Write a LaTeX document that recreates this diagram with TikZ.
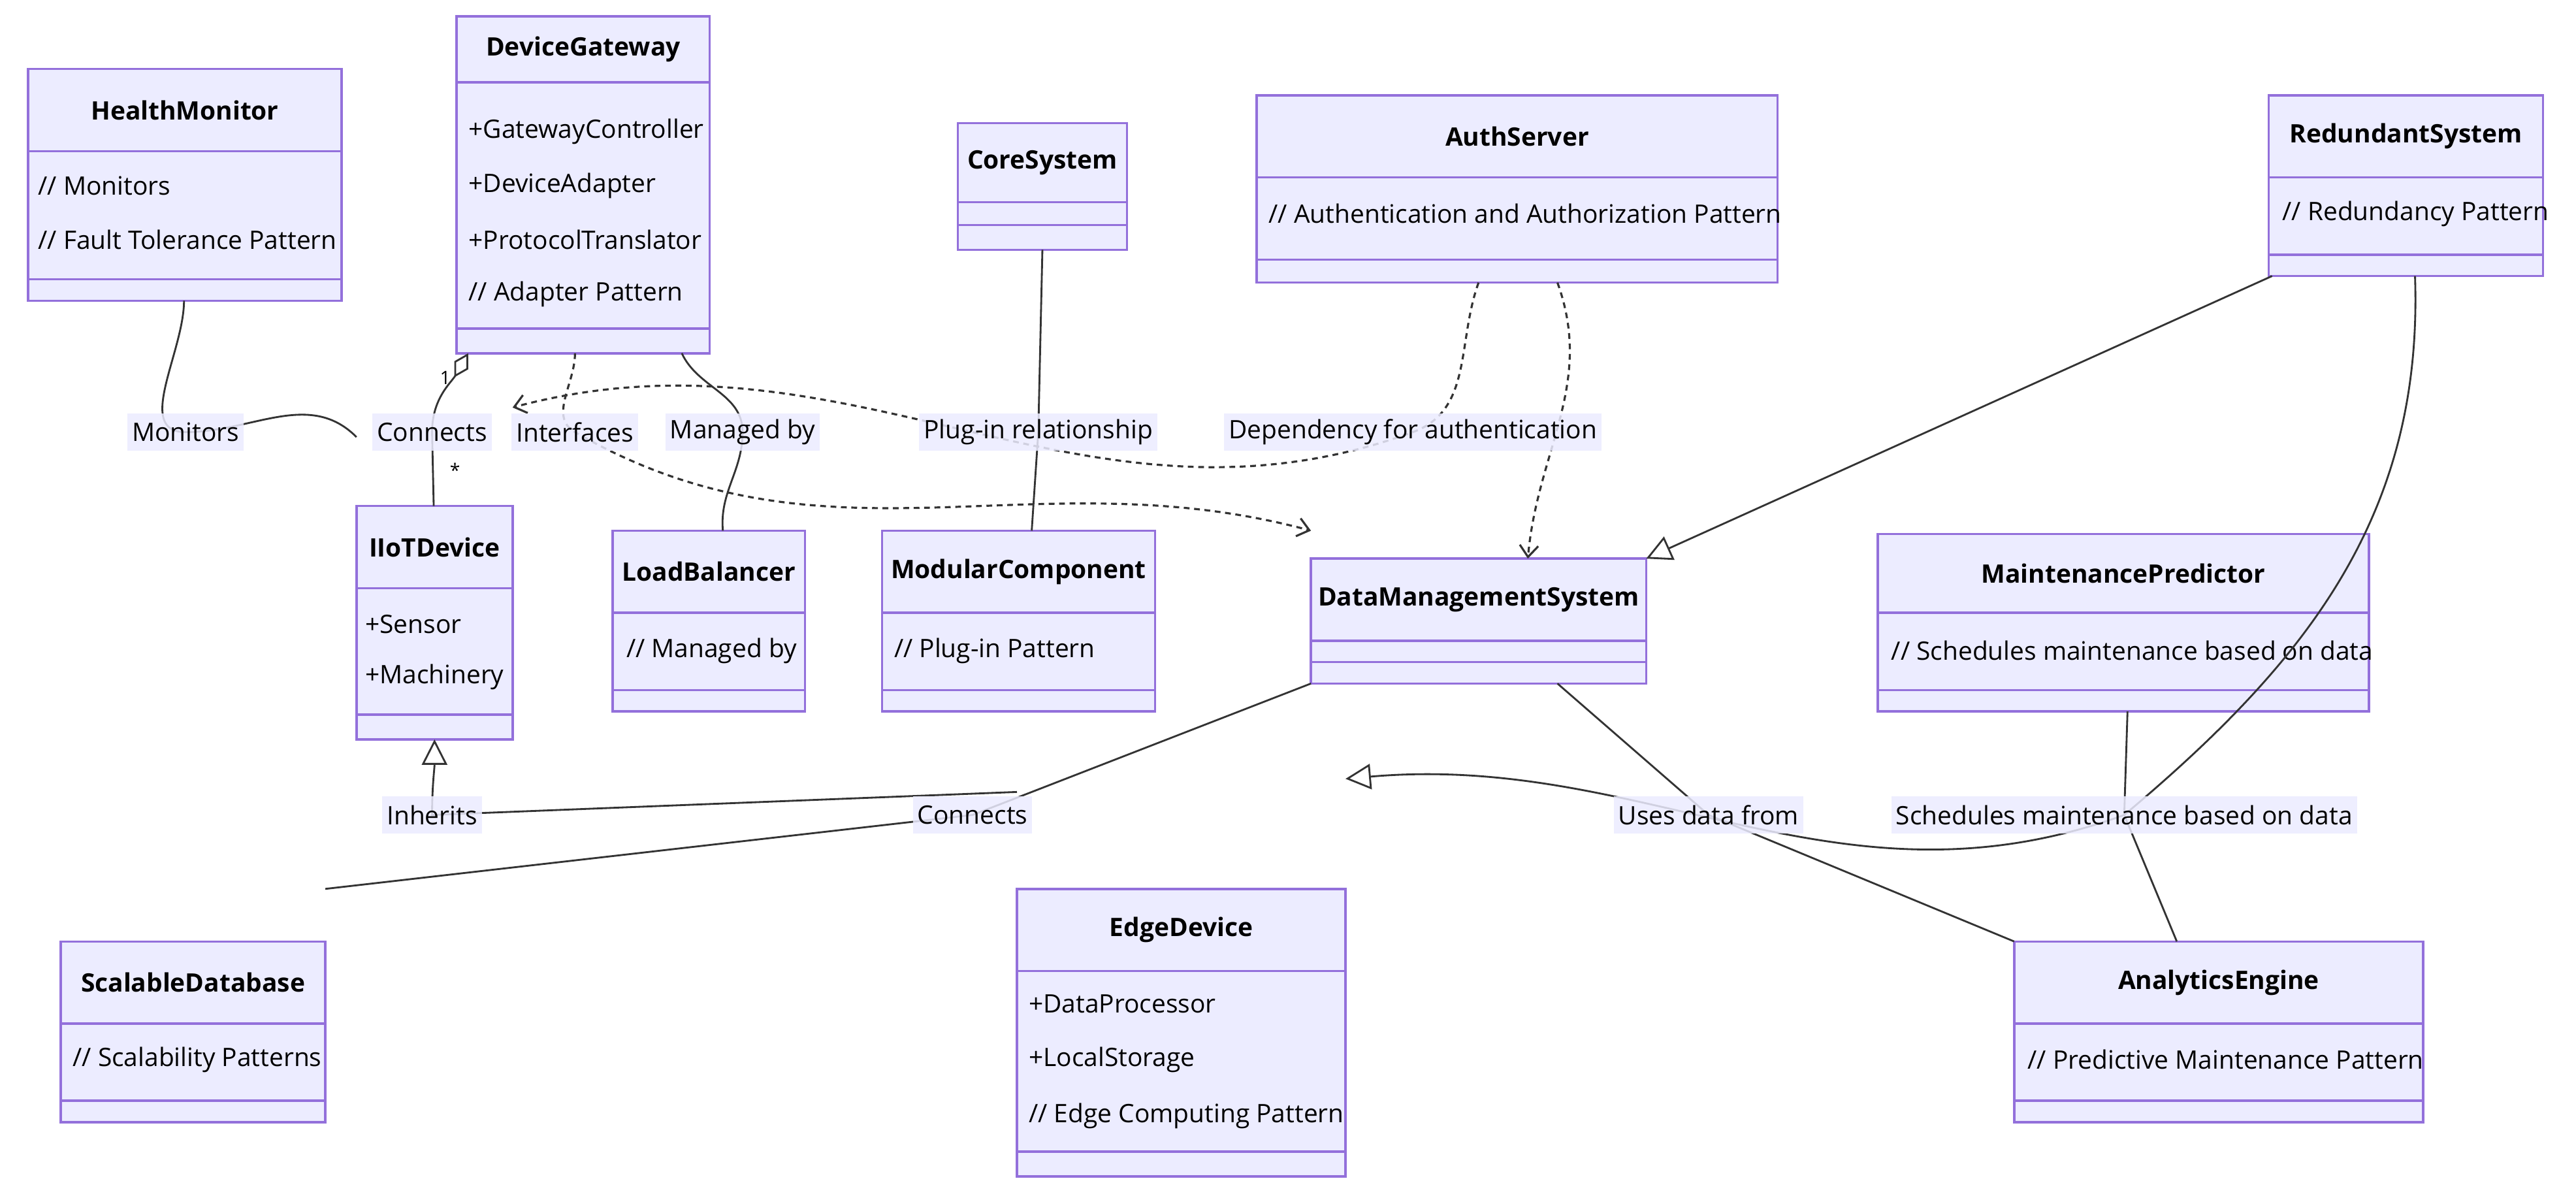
\documentclass[tikz,border=0pt]{standalone}
\usepackage{fontspec}
\setmainfont{Open Sans}
\usetikzlibrary{arrows.meta,calc}
\definecolor{boxfill}{HTML}{ECECFF}
\definecolor{boxline}{HTML}{9370DB}
\definecolor{edge}{HTML}{333333}
\newcommand{\umlbox}[8]{%
 \fill[boxfill] (#2,#3) rectangle (#4,#5);
 \draw[boxline,line width=1pt] (#2,#6) -- (#4,#6) (#2,#7) -- (#4,#7);
 \node[cls,minimum width={(#4-#2)*0.025cm},minimum height={(#5-#3)*0.025cm},anchor=north west] (#1) at (#2,#3) {};
 \node[ttl] at ({(#2+#4)/2},{(#3+#6)/2}) {#8};
}
\begin{document}
\begin{tikzpicture}[x=0.025cm,y=-0.025cm,
 cls/.style={draw=boxline,line width=1pt,inner sep=0pt,outer sep=0pt},
 ttl/.style={font=\fontsize{11}{13}\selectfont\bfseries,inner sep=0pt},
 mem/.style={font=\fontsize{11}{13}\selectfont,anchor=west,inner sep=0pt},
 lbl/.style={font=\fontsize{11}{13}\selectfont,fill=boxfill,fill opacity=0.85,text opacity=1,inner sep=2pt,minimum height=16pt},
 ln/.style={edge,line width=0.8pt},
 dsh/.style={edge,line width=0.9pt,dash pattern=on 2.5pt off 2pt},
 inh/.style={-{Triangle[open,length=11pt,width=11pt]}},
 dep/.style={-{Straight Barb[length=5pt,width=8pt]}},
 mult/.style={font=\fontsize{8}{9}\selectfont,inner sep=0pt}]
\useasboundingbox (0,0) rectangle (1568,729);
\fill[white] (0,0) rectangle (1568,729);

% edges first
\coordinate (Lmon) at (113,263);
\coordinate (Lcon1) at (263,263);
\coordinate (Lint) at (350,263);
\coordinate (Lman) at (452,263);
\coordinate (Lplug) at (632,263);
\coordinate (Ldep) at (860,263);
\coordinate (Linh) at (263,496);
\coordinate (Lcon2) at (592,496);
\coordinate (Luse) at (1040,496);
\coordinate (Lsch) at (1293,496);

\umlbox{hm}{17}{42}{208}{183}{92}{170}{HealthMonitor}
\umlbox{dg}{278}{10}{432}{215}{50}{200}{DeviceGateway}
\umlbox{cs}{583}{75}{686}{152}{123}{137}{CoreSystem}
\umlbox{as}{765}{58}{1082}{172}{108}{158}{AuthServer}
\umlbox{rs}{1381}{58}{1548}{168}{108}{155}{RedundantSystem}
\umlbox{iot}{217}{308}{312}{450}{358}{435}{IIoTDevice}
\umlbox{lb}{373}{323}{490}{433}{373}{420}{LoadBalancer}
\umlbox{mc}{537}{323}{703}{433}{373}{420}{ModularComponent}
\umlbox{dms}{798}{340}{1002}{416}{390}{403}{DataManagementSystem}
\umlbox{mp}{1143}{325}{1442}{433}{373}{420}{MaintenancePredictor}
\umlbox{sd}{37}{573}{198}{683}{623}{670}{ScalableDatabase}
\umlbox{ed}{619}{541}{819}{716}{591}{701}{EdgeDevice}
\umlbox{ae}{1226}{573}{1475}{683}{623}{670}{AnalyticsEngine}

\node[mem] at (23,113) {// Monitors};
\node[mem] at (23,146) {// Fault Tolerance Pattern};
\node[mem] at (285,80) {+GatewayController};
\node[mem] at (285,113) {+DeviceAdapter};
\node[mem] at (285,146) {+ProtocolTranslator};
\node[mem] at (285,179) {// Adapter Pattern};
\node[mem] at (772,130) {// Authentication and Authorization Pattern};
\node[mem] at (1389,130) {// Redundancy Pattern};
\node[mem] at (222,380) {+Sensor};
\node[mem] at (222,412) {+Machinery};
\node[mem] at (381,396) {// Managed by};
\node[mem] at (544,396) {// Plug-in Pattern};
\node[mem] at (1151,396) {// Schedules maintenance based on data};
\node[mem] at (44,645) {// Scalability Patterns};
\node[mem] at (626,611) {+DataProcessor};
\node[mem] at (626,645) {+LocalStorage};
\node[mem] at (626,679) {// Edge Computing Pattern};
\node[mem] at (1234,645) {// Predictive Maintenance Pattern};

% connectors
\draw[ln] ($(hm.south west)+(95,0)$) to[out=-90,in=180] (Lmon) to[out=0,in=135] ($(iot.north west)+(0,-42)$);
\draw[ln,{Diamond[open,length=12pt,width=7pt]}-] ($(dg.south west)+(7,0)$) to[out=-120,in=90] (Lcon1) -- ($(iot.north west)+(47,0)$);
\node[mult] at (271,230) {1};
\node[mult] at (277,286) {*};
\draw[dsh,dep] ($(dg.south west)+(72,0)$) to[out=-90,in=150] (Lint) to[out=-30,in=165] ($(dms.north west)+(0,-17)$);
\draw[ln] ($(dg.south west)+(137,0)$) to[out=-65,in=90] (Lman) to[out=-90,in=95] ($(lb.north west)+(67,0)$);
\draw[ln] (cs.south) -- (Lplug) -- ($(mc.north west)+(91,0)$);
\draw[dsh,dep] ($(as.south west)+(135,0)$) to[out=-110,in=20] (Ldep) to[out=200,in=15] ($(iot.north east)+(0,-60)$);
\draw[dsh,dep] ($(as.south west)+(183,0)$) to[out=-70,in=85] ($(dms.north west)+(132,0)$);
\draw[ln,inh] ($(rs.south west)+(2,0)$) -- (dms.north east);
\draw[ln,inh] ($(rs.south west)+(89,0)$) to[out=-88,in=40] (Lsch) to[out=200,in=5] ($(ed.north east)+(0,-67)$);
\draw[ln] ($(mp.south west)+(152,0)$) -- (Lsch) -- ($(ae.north west)+(99,0)$);
\draw[ln] ($(dms.south west)+(150,0)$) -- (Luse) -- (ae.north west);
\draw[ln] (dms.south west) -- (Lcon2) -- ($(sd.north east)+(0,-32)$);
\draw[ln,inh] ($(ed.north west)+(0,-59)$) -- (Linh) to[out=90,in=-90] (iot.south);

\node[lbl] at (Lmon) {Monitors};
\node[lbl] at (Lcon1) {Connects};
\node[lbl] at (Lint) {Interfaces};
\node[lbl] at (Lman) {Managed by};
\node[lbl] at (Lplug) {Plug-in relationship};
\node[lbl] at (Ldep) {Dependency for authentication};
\node[lbl] at (Linh) {Inherits};
\node[lbl] at (Lcon2) {Connects};
\node[lbl] at (Luse) {Uses data from};
\node[lbl] at (Lsch) {Schedules maintenance based on data};
\end{tikzpicture}
\end{document}
